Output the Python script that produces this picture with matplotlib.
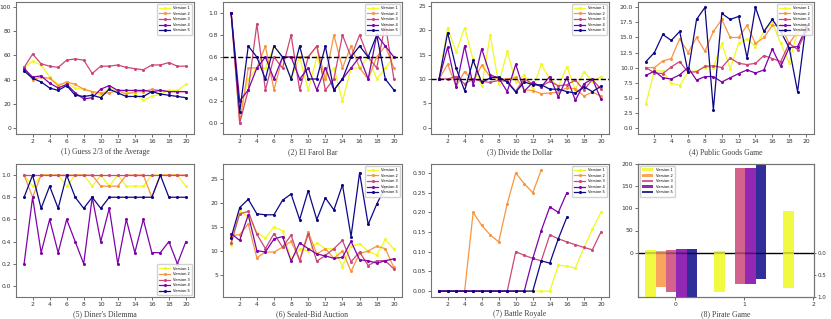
import numpy as np
import matplotlib
matplotlib.use("Agg")
import matplotlib.pyplot as plt

versions = ["Version 1", "Version 2", "Version 3", "Version 4", "Version 5"]
rounds = list(range(1, 21))

guess_v1 = [50, 55, 52, 42, 36, 37, 33, 32, 30, 27, 33, 31, 30, 28, 23, 26, 28, 31, 31, 36]
guess_v2 = [50, 40, 42, 41, 35, 38, 36, 32, 30, 29, 29, 31, 28, 30, 30, 32, 31, 30, 30, 30]
guess_v3 = [50, 61, 53, 51, 50, 56, 57, 56, 45, 51, 51, 52, 50, 49, 48, 52, 52, 54, 51, 51]
guess_v4 = [49, 42, 43, 37, 33, 36, 29, 24, 25, 32, 35, 31, 31, 31, 31, 30, 31, 30, 30, 30]
guess_v5 = [47, 41, 38, 33, 31, 35, 27, 26, 27, 25, 32, 29, 26, 26, 26, 30, 28, 27, 26, 25]

farol_v1 = [1.0, 0.1, 0.4, 0.5, 0.5, 0.7, 0.6, 0.4, 0.6, 0.3, 0.6, 0.4, 0.5, 0.2, 0.5, 0.5, 0.6, 0.4, 0.5, 0.6]
farol_v2 = [1.0, 0.0, 0.5, 0.5, 0.7, 0.3, 0.6, 0.6, 0.6, 0.6, 0.7, 0.4, 0.8, 0.5, 0.7, 0.5, 0.4, 0.6, 0.7, 0.5]
farol_v3 = [1.0, 0.0, 0.3, 0.9, 0.3, 0.6, 0.5, 0.8, 0.3, 0.6, 0.7, 0.3, 0.4, 0.8, 0.6, 0.8, 0.6, 0.5, 0.9, 0.4]
farol_v4 = [1.0, 0.2, 0.3, 0.5, 0.6, 0.4, 0.6, 0.6, 0.4, 0.5, 0.3, 0.5, 0.3, 0.4, 0.5, 0.6, 0.4, 0.8, 0.7, 0.6]
farol_v5 = [1.0, 0.1, 0.7, 0.6, 0.4, 0.7, 0.6, 0.4, 0.7, 0.4, 0.4, 0.7, 0.3, 0.4, 0.6, 0.7, 0.6, 0.8, 0.4, 0.3]
farol_ref = 0.6

dollar_v1 = [10, 20.5, 15.5, 20.5, 14, 8.5, 19, 9, 15.7, 9.3, 10.8, 8, 13, 10, 8.5, 12.5, 7.8, 11.5, 9.5, 10.5]
dollar_v2 = [10, 13, 8.5, 11.5, 9.5, 12.8, 10.5, 10, 10, 10.3, 7.8, 7.6, 7, 7.1, 7.3, 8.2, 8, 6.5, 7.3, 6.5]
dollar_v3 = [10, 10, 10.5, 9, 10, 9.5, 9.3, 9.7, 9.5, 7.5, 10, 9, 8.5, 9.5, 8.6, 8.8, 9.8, 7.7, 9.9, 7.9]
dollar_v4 = [10, 16.5, 8.3, 16.8, 8.7, 16.2, 10.8, 10.2, 7.4, 13, 7.5, 9.3, 8.4, 10.5, 6.3, 10.3, 5.6, 9, 10, 5.9]
dollar_v5 = [10, 19.5, 12.2, 7.6, 13.8, 9.3, 10.2, 10.4, 9.4, 7.3, 9.4, 8.8, 8.8, 7.9, 7.9, 7.4, 7.1, 8.4, 7.4, 8.5]
dollar_ref = 10

public_v1 = [4, 9.5, 9.4, 7.4, 7, 9.2, 9.5, 10, 10, 14, 9.8, 14, 14.8, 13.5, 16, 17.5, 14, 10.8, 16, 17]
public_v2 = [10, 10, 11.1, 11.5, 14.8, 12.5, 15, 12.7, 16, 18, 15, 15, 17, 14, 15, 17, 17, 14, 16, 17]
public_v3 = [10, 9.1, 9, 10.1, 11, 9.2, 9.3, 10.2, 10.3, 10, 11.6, 10.7, 10.5, 10.7, 12, 11.5, 11, 14, 13, 16]
public_v4 = [8.7, 9.4, 8.3, 8.1, 8.8, 10, 7.9, 8.5, 8.5, 7.6, 8.3, 9, 9.6, 9.1, 9.6, 13.1, 10.2, 13.3, 13.5, 16.5]
public_v5 = [11, 12.5, 15.5, 14.5, 16, 9.2, 18, 20, 3, 19, 18, 18.5, 11.6, 20, 16, 18, 16, 13.3, 6, 17]

diner_v1 = [1.0, 0.9, 1.0, 1.0, 1.0, 0.9, 1.0, 1.0, 0.9, 1.0, 0.9, 1.0, 0.9, 0.9, 0.9, 1.0, 1.0, 1.0, 1.0, 0.9]
diner_v2 = [1.0, 0.8, 1.0, 1.0, 1.0, 1.0, 1.0, 1.0, 1.0, 0.9, 0.9, 0.9, 1.0, 1.0, 1.0, 0.8, 1.0, 1.0, 1.0, 1.0]
diner_v3 = [1.0] * 20
diner_v4 = [0.2, 0.8, 0.3, 0.6, 0.3, 0.6, 0.4, 0.2, 0.8, 0.4, 0.7, 0.2, 0.6, 0.3, 0.6, 0.3, 0.3, 0.4, 0.2, 0.4]
diner_v5 = [0.8, 1.0, 0.7, 0.9, 0.7, 1.0, 0.8, 0.7, 0.8, 0.7, 0.8, 0.8, 0.8, 0.8, 0.8, 0.8, 1.0, 0.8, 0.8, 0.8]

auction_v1 = [11.2, 18.3, 17, 13.8, 12.7, 15, 14.2, 8.3, 10.5, 10, 11.7, 10.5, 10.5, 6.8, 11, 11.5, 10, 9.2, 12.4, 10.4]
auction_v2 = [13.2, 13.4, 15.6, 8.6, 9.8, 9.8, 10.8, 12, 8.2, 14, 9.4, 10.5, 8.5, 10, 5.8, 9.5, 10, 11, 10.5, 6.6]
auction_v3 = [11.7, 17.7, 18.2, 13.5, 10.5, 13.6, 10.8, 13.3, 8, 13.5, 7.9, 9.1, 10.5, 12.2, 7.8, 9.8, 7, 8, 8, 6.3]
auction_v4 = [13.6, 12.2, 17.5, 10.1, 9.8, 12.5, 13, 7.9, 11.7, 10.5, 9.4, 9, 8.5, 8.7, 12, 8.2, 8, 7.5, 8, 8.4]
auction_v5 = [12.8, 19, 20.7, 17.7, 17.5, 17.5, 20.5, 21.8, 16.5, 22.5, 16.5, 21, 18.5, 23.7, 13, 26.2, 15.5, 19.7, 23.2]

battle_v1 = [0]*14 + [0.066, 0.063, 0.059, 0.11, 0.157, 0.2]
battle_v2 = [0, 0, 0, 0, 0.2, 0.167, 0.143, 0.125, 0.222, 0.3, 0.273, 0.25, 0.308]
battle_v3 = [0]*9 + [0.1, 0.091, 0.083, 0.077, 0.143, 0.133, 0.125, 0.118, 0.111, 0.105, 0.15]
battle_v4 = [0]*11 + [0.083, 0.154, 0.214, 0.2, 0.25]
battle_v5 = [0]*12 + [0.077, 0.071, 0.133, 0.1875]

pirate_groups = [0, 1, 2]
pirate_top = [[7, 4.5, 94], [3, np.nan, np.nan], [5, 190, np.nan], [7.5, 190, np.nan], [7.5, 199, np.nan]]
pirate_bottom = [[1.0, 0.88, 0.80], [0.78, np.nan, np.nan], [0.89, 0.70, np.nan], [1.0, 0.70, np.nan], [1.0, 0.59, np.nan]]

colors = [plt.cm.plasma(v) for v in np.linspace(1.0, 0.0, 5)]

W, H = 831, 319
fig = plt.figure(figsize=(W / 100, H / 100), dpi=100)

lefts = [16, 223, 431, 638]
widths = [178, 179, 178, 176]
rows = [(2, 134), (164, 297)]
title_y = [152, 314]

TICK_FS = 4.3
LEG_FS = 2.6
TITLE_FS = 5.6
FRAME = "0.45"

def make_ax(r, c):
    top, bot = rows[r]
    ax = fig.add_axes([lefts[c] / W, 1 - bot / H, widths[c] / W, (bot - top) / H])
    for s in ax.spines.values():
        s.set_color(FRAME)
        s.set_linewidth(0.8)
    ax.tick_params(labelsize=TICK_FS, length=2, width=0.5, pad=1.5, colors="0.2")
    return ax

def title(r, c, text):
    fig.text((lefts[c] + widths[c] / 2) / W, 1 - title_y[r] / H, text,
             ha="center", va="center", fontsize=TITLE_FS, family="Liberation Serif", color="0.25")

def lines(ax, series, loc="upper right"):
    for i, s in enumerate(series):
        x = rounds[:len(s)]
        ax.plot(x, s, color=colors[i], lw=0.9, marker="o", ms=1.2, label=versions[i])
    ax.set_xticks(range(2, 21, 2))
    ax.set_xlim(0.05, 20.95)
    ax.legend(loc=loc, fontsize=LEG_FS, handlelength=3, borderpad=0.6, labelspacing=0.45, framealpha=0.85)

ax1 = make_ax(0, 0)
lines(ax1, [guess_v1, guess_v2, guess_v3, guess_v4, guess_v5])
ax1.set_ylim(-5, 104)
ax1.set_yticks([0, 20, 40, 60, 80, 100])
title(0, 0, "(1) Guess 2/3 of the Average")

ax2 = make_ax(0, 1)
ax2.axhline(farol_ref, color="black", ls="--", lw=1.0, zorder=5)
lines(ax2, [farol_v1, farol_v2, farol_v3, farol_v4, farol_v5])
ax2.set_ylim(-0.1, 1.1)
ax2.set_yticks([0.0, 0.2, 0.4, 0.6, 0.8, 1.0])
title(0, 1, "(2) El Farol Bar")

ax3 = make_ax(0, 2)
ax3.axhline(dollar_ref, color="black", ls="--", lw=1.0, zorder=5)
lines(ax3, [dollar_v1, dollar_v2, dollar_v3, dollar_v4, dollar_v5])
ax3.set_ylim(-1.3, 25.8)
ax3.set_yticks([0, 5, 10, 15, 20, 25])
title(0, 2, "(3) Divide the Dollar")

ax4 = make_ax(0, 3)
lines(ax4, [public_v1, public_v2, public_v3, public_v4, public_v5])
ax4.set_ylim(-1.05, 20.9)
ax4.set_yticks(np.arange(0, 20.1, 2.5))
title(0, 3, "(4) Public Goods Game")

ax5 = make_ax(1, 0)
lines(ax5, [diner_v1, diner_v2, diner_v3, diner_v4, diner_v5], loc="lower right")
ax5.set_ylim(-0.1, 1.1)
ax5.set_yticks([0.0, 0.2, 0.4, 0.6, 0.8, 1.0])
title(1, 0, "(5) Diner's Dilemma")

ax6 = make_ax(1, 1)
lines(ax6, [auction_v1, auction_v2, auction_v3, auction_v4, auction_v5])
ax6.set_ylim(0.5, 28)
ax6.set_yticks([5, 10, 15, 20, 25])
title(1, 1, "(6) Sealed-Bid Auction")

ax7 = make_ax(1, 2)
lines(ax7, [battle_v1, battle_v2, battle_v3, battle_v4, battle_v5])
ax7.set_ylim(-0.015, 0.323)
ax7.set_yticks(np.arange(0, 0.31, 0.05))
title(1, 2, "(7) Battle Royale")

ax8 = make_ax(1, 3)
ax8b = ax8.twinx()
bw = 0.15
offsets = [-0.36 + bw * j for j in range(5)]
gx = np.array(pirate_groups, dtype=float)
for j in range(5):
    ax8.bar(gx + offsets[j], pirate_top[j], width=bw, color=colors[j], alpha=0.85, label=versions[j])
    ax8b.bar(gx + offsets[j], pirate_bottom[j], width=bw, color=colors[j], alpha=0.85)
ax8.axhline(0, color="black", lw=1.0, zorder=6)
ax8.set_ylim(-100, 200)
ax8.set_yticks([0, 50, 100, 150, 200])
ax8b.set_ylim(1.0, -2.0)
ax8b.set_yticks([0.0, 0.5, 1.0])
ax8b.tick_params(labelsize=TICK_FS - 0.3, length=1.5, width=0.5, pad=0.8, colors="0.2")
for s in ax8b.spines.values():
    s.set_color(FRAME)
    s.set_linewidth(0.8)
ax8.set_xlim(-0.54, 2.01)
ax8.set_xticks(pirate_groups)
ax8.legend(loc="upper left", fontsize=LEG_FS, handlelength=3, borderpad=0.6, labelspacing=0.45, framealpha=0.85)
title(1, 3, "(8) Pirate Game")

fig.savefig("out.png", dpi=100)
